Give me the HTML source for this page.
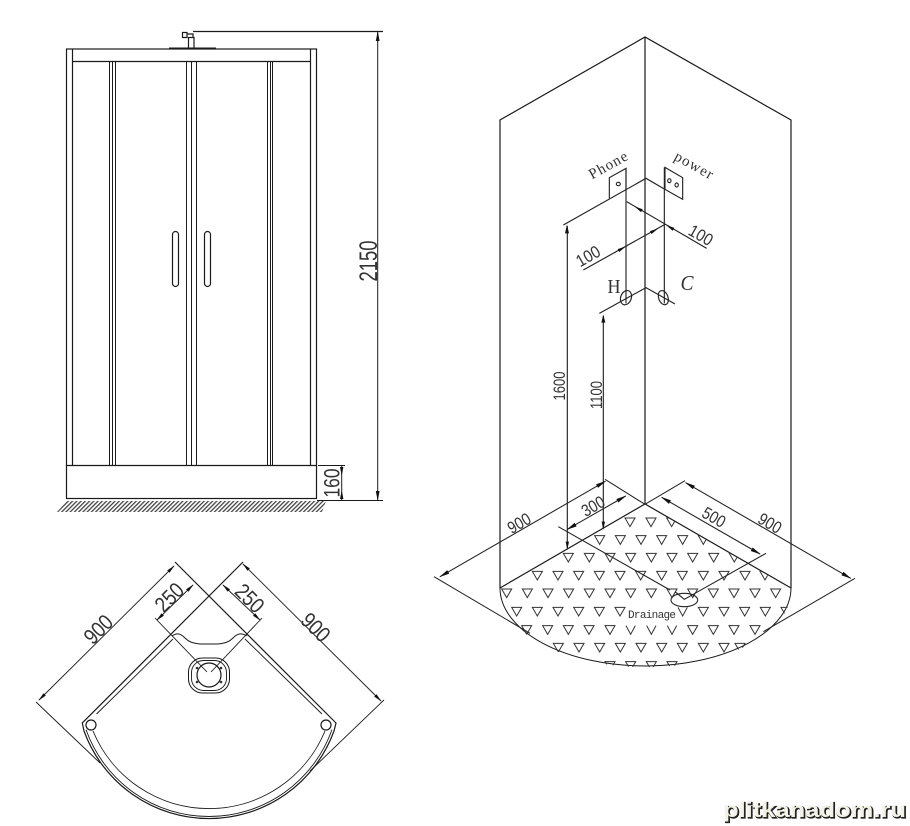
<!DOCTYPE html>
<html>
<head>
<meta charset="utf-8">
<style>
html,body{margin:0;padding:0;background:#fff}
svg{display:block}
text{font-family:"Liberation Sans",sans-serif;fill:#333}
.d{fill:none;stroke:#1a1a1a;stroke-width:1.2}
.a{marker-start:url(#ar);marker-end:url(#ar)}
</style>
</head>
<body>
<svg width="910" height="826" viewBox="0 0 910 826" xmlns="http://www.w3.org/2000/svg">
<defs>
<marker id="ar" markerWidth="10" markerHeight="5" refX="9" refY="2.5" orient="auto-start-reverse" markerUnits="strokeWidth" viewBox="0 0 10 5">
<path d="M0,0.6L10,2.5L0,4.4z" fill="#111"/>
</marker>
<pattern id="h" width="3" height="3" patternUnits="userSpaceOnUse" patternTransform="rotate(45)">
<rect width="1.3" height="3" fill="#444"/>
</pattern>
<clipPath id="fl"><path d="M645,133L1085,388A438.5,234 0 0 1 208,388Z"/></clipPath>
<path id="v" d="M-15,-13H15L0,13Z" fill="none" stroke="#333" stroke-width="3"/>
<path id="u" d="M-14,-13L0,13L14,-13" fill="none" stroke="#333" stroke-width="3"/>
</defs>
<rect width="910" height="826" fill="#fff"/>

<!-- Front view -->
<g class="d">
<rect x="66.5" y="49" width="250" height="449.5"/>
<path d="M72.5,49V465M310.5,49V465M72.7,61.5H310.5M66.5,465.5H316.5"/>
<path stroke-width="1" d="M109.5,61V465M112.5,61V465M115.5,61V465M186.5,61V465M191.5,61V465M196.5,61V465M267.5,61V465M270.5,61V465M272.5,61V465"/>
<rect x="172.5" y="231.5" width="6" height="55" rx="3"/>
<rect x="204.5" y="231.5" width="6" height="55" rx="3"/>
<path d="M169,48.5H216" stroke-width="2"/>
<path d="M188.5,48V37.5H194V48M182.5,32.5H187V37.5H182.5ZM187,34H193V37.5M193,31.5H383"/>
<path d="M317,500.5H383M318,465.5H345" stroke-width="1"/>
<path class="a" d="M377.7,32V500" stroke-width="1"/>
<path d="M341.7,465.5V500" stroke-width="1"/>
</g>
<path d="M341.7,476L340,467H343.4ZM341.7,490L340,499H343.4Z" fill="#111"/>
<path d="M57,512L67,501H326L322,512Z" fill="url(#h)"/>
<text transform="translate(331.5,483) rotate(-90)" y="8" font-size="22" text-anchor="middle" textLength="29" lengthAdjust="spacingAndGlyphs">160</text>
<text transform="translate(368,261) rotate(-90)" y="9" font-size="25" text-anchor="middle" textLength="41" lengthAdjust="spacingAndGlyphs">2150</text>

<!-- Plan view -->
<g class="d" stroke-width="1">
<path d="M243,562L82.3,723L84,731A133,133 0 0 0 334,731L336,723L175,562"/>
<path d="M173,639L96.5,714M245,639L322,714" stroke-width="0.9"/>
<path d="M86,729.6A130.5,130.5 0 0 0 332,729.6" stroke-width="0.9"/>
<path d="M93,731A125.5,125.5 0 0 0 325,731" stroke-width="0.9"/>
<circle cx="91" cy="725" r="5"/>
<circle cx="326" cy="725" r="5"/>
<path d="M172,636C177,632 181,634 185,638C189,642 192,643 200,644H218C226,643 229,642 233,638C237,634 241,632 247,636" stroke-width="1"/>
<rect x="188.5" y="658" width="41" height="35" rx="14" stroke-width="1"/>
<rect x="191.5" y="660.5" width="35" height="30" rx="12" stroke-width="0.9"/>
<circle cx="209" cy="675" r="12" stroke-width="1.2"/>
<path d="M155,618L207,672M262,618L211,672" stroke-width="0.9"/>
<path class="a" d="M157,620L193,585" stroke-width="0.9"/>
<path class="a" d="M223,585L260,620" stroke-width="0.9"/>
<path class="a" d="M174,566L39,700" stroke-width="0.9"/>
<path class="a" d="M243,564L381,701" stroke-width="0.9"/>
<path d="M36,702L100,763M384,700L310,771" stroke-width="0.9"/>
</g>
<g fill="#333"><circle cx="197" cy="668" r="1.3"/><circle cx="221" cy="668" r="1.3"/><circle cx="197" cy="682" r="1.3"/><circle cx="221" cy="682" r="1.3"/></g>
<text transform="translate(98,629) rotate(-45)" y="8" font-size="22" text-anchor="middle" textLength="31" lengthAdjust="spacingAndGlyphs">900</text>
<text transform="translate(169,597) rotate(-45)" y="8" font-size="22" text-anchor="middle" textLength="31" lengthAdjust="spacingAndGlyphs">250</text>
<text transform="translate(250,598) rotate(45)" y="8" font-size="22" text-anchor="middle" textLength="31" lengthAdjust="spacingAndGlyphs">250</text>
<text transform="translate(316,627) rotate(45)" y="8" font-size="22" text-anchor="middle" textLength="31" lengthAdjust="spacingAndGlyphs">900</text>

<!-- Isometric main -->
<g class="d">
<path d="M500,588V120L645,37L791,120V588M645,37V504"/>
<path d="M500,588L645,504L791,588"/>
<path d="M500,588A145.5,78 0 0 0 791,588" stroke-width="1"/>
<path d="M567.3,226V548M603.3,316V528" stroke-width="1.1"/>
</g>

<!-- Floor triangles -->
<g transform="translate(430,460) scale(0.33333)">
<g clip-path="url(#fl)">
<use href="#v" x="600" y="187"/><use href="#v" x="663" y="187"/><use href="#v" x="725" y="187"/>
<use href="#v" x="509" y="240"/><use href="#v" x="571" y="240"/><use href="#v" x="633" y="240"/><use href="#v" x="695" y="240"/><use href="#v" x="758" y="240"/><use href="#v" x="820" y="240"/>
<use href="#v" x="415" y="293"/><use href="#v" x="478" y="293"/><use href="#v" x="540" y="293"/><use href="#v" x="602" y="293"/><use href="#v" x="664" y="293"/><use href="#v" x="726" y="293"/><use href="#v" x="788" y="293"/><use href="#v" x="851" y="293"/><use href="#v" x="913" y="293"/>
<use href="#v" x="322" y="347"/><use href="#v" x="384" y="347"/><use href="#v" x="446" y="347"/><use href="#v" x="508" y="347"/><use href="#v" x="570" y="347"/><use href="#v" x="632" y="347"/><use href="#v" x="695" y="347"/><use href="#v" x="757" y="347"/><use href="#v" x="820" y="347"/><use href="#v" x="882" y="347"/><use href="#v" x="945" y="347"/><use href="#v" x="1005" y="347"/>
<use href="#v" x="230" y="400"/><use href="#v" x="292" y="400"/><use href="#v" x="354" y="400"/><use href="#v" x="416" y="400"/><use href="#v" x="478" y="400"/><use href="#v" x="540" y="400"/><use href="#v" x="602" y="400"/><use href="#v" x="664" y="400"/><use href="#v" x="726" y="400"/><use href="#v" x="788" y="400"/><use href="#v" x="850" y="400"/><use href="#v" x="912" y="400"/><use href="#v" x="975" y="400"/><use href="#v" x="1037" y="400"/>
<use href="#v" x="260" y="455"/><use href="#v" x="322" y="455"/><use href="#v" x="384" y="455"/><use href="#v" x="446" y="455"/><use href="#v" x="508" y="455"/><use href="#v" x="570" y="455"/><use href="#u" x="758" y="455"/><use href="#v" x="820" y="455"/><use href="#v" x="882" y="455"/><use href="#v" x="944" y="455"/><use href="#v" x="1006" y="455"/><use href="#v" x="1068" y="455"/>
<use href="#v" x="290" y="510"/><use href="#v" x="353" y="510"/><use href="#v" x="415" y="510"/><use href="#v" x="477" y="510"/><use href="#v" x="540" y="510"/><use href="#u" x="602" y="510"/><use href="#u" x="664" y="510"/><use href="#u" x="726" y="510"/><use href="#v" x="788" y="510"/><use href="#v" x="850" y="510"/><use href="#v" x="912" y="510"/><use href="#v" x="975" y="510"/>
<use href="#v" x="385" y="563"/><use href="#v" x="447" y="563"/><use href="#v" x="509" y="563"/><use href="#v" x="571" y="563"/><use href="#v" x="633" y="563"/><use href="#v" x="695" y="563"/><use href="#v" x="757" y="563"/><use href="#v" x="820" y="563"/><use href="#v" x="882" y="563"/><use href="#v" x="930" y="563"/>
<use href="#v" x="540" y="618"/><use href="#v" x="602" y="618"/><use href="#v" x="664" y="618"/><use href="#v" x="726" y="618"/>
</g>
<g fill="none" stroke="#222" stroke-width="3.2">
<path class="a" d="M30,350L526,64"/>
<path class="a" d="M767,68L1262,355"/>
<path d="M12,350L300,520M1275,355L1000,515M525,58L645,133M765,62L645,133"/>
<path class="a" d="M412,208L587,108"/>
<path d="M385,200L720,390M1008,280L795,400"/>
<path class="a" d="M695,112L990,282"/>
<ellipse cx="763" cy="420" rx="40" ry="20"/>
<path d="M735,395L763,418L795,400"/>
</g>
<path d="M412,270L407,245H417ZM520,210L515,185H525Z" fill="#111"/>
</g>

<!-- Isometric upper -->
<g transform="translate(540,130) scale(0.33333)">
<g fill="none" stroke="#222" stroke-width="3.4">
<path d="M208,205V143L258,115V178M375,178V112L428,143V208L375,178"/>
<path d="M70,285L318,145L375,178"/>
<path d="M258,115V520M373,112V520"/>
<path d="M260,215L500,355"/>
<path d="M130,420L375,283"/>
<path d="M178,550L318,473L405,522"/>
<ellipse cx="258" cy="503" rx="16" ry="22" transform="rotate(20 258 503)"/>
<ellipse cx="370" cy="503" rx="14" ry="22" transform="rotate(-20 370 503)"/>
<ellipse cx="235" cy="162" rx="6" ry="5"/>
<ellipse cx="388" cy="152" rx="5" ry="6"/>
<ellipse cx="410" cy="165" rx="5" ry="6"/>
</g>
<g fill="#111">
<path d="M81,283L75,310H87ZM190,553L184,578H196Z"/>
<path d="M283,229L303,246.4L308,237.8ZM378,285L398,302.4L403,293.8Z"/>
<path d="M258,349L237.7,366.1L232.9,357.3ZM355,295L334.7,312.1L329.9,303.3Z"/>
</g>
</g>

<!-- Isometric labels -->
<text transform="translate(608,165) rotate(-29)" y="5" font-size="15" text-anchor="middle" textLength="42" style="font-family:'Liberation Serif',serif">Phone</text>
<text transform="translate(694,165) rotate(29)" y="5" font-size="15" text-anchor="middle" textLength="42" style="font-family:'Liberation Serif',serif">power</text>
<text x="614" y="293" font-size="20" text-anchor="middle" textLength="13" lengthAdjust="spacingAndGlyphs" style="font-family:'Liberation Serif',serif">H</text>
<text x="687" y="290" font-size="21" text-anchor="middle" font-style="italic" textLength="13" lengthAdjust="spacingAndGlyphs" style="font-family:'Liberation Serif',serif">C</text>
<text transform="translate(588,256) rotate(-30)" y="6" font-size="17" text-anchor="middle" textLength="25" lengthAdjust="spacingAndGlyphs">100</text>
<text transform="translate(701,235) rotate(30)" y="6" font-size="17" text-anchor="middle" textLength="25" lengthAdjust="spacingAndGlyphs">100</text>
<text transform="translate(559,386) rotate(-90)" y="6" font-size="17" text-anchor="middle" textLength="29" lengthAdjust="spacingAndGlyphs">1600</text>
<text transform="translate(596,395) rotate(-90)" y="6" font-size="17" text-anchor="middle" textLength="28" lengthAdjust="spacingAndGlyphs">1100</text>
<text transform="translate(593,506) rotate(-30)" y="6" font-size="17" text-anchor="middle" textLength="24" lengthAdjust="spacingAndGlyphs">300</text>
<text transform="translate(714,517) rotate(30)" y="6" font-size="17" text-anchor="middle" textLength="24" lengthAdjust="spacingAndGlyphs">500</text>
<text transform="translate(519,523) rotate(-30)" y="6" font-size="17" text-anchor="middle" textLength="24" lengthAdjust="spacingAndGlyphs">900</text>
<text transform="translate(770,523) rotate(30)" y="6" font-size="17" text-anchor="middle" textLength="24" lengthAdjust="spacingAndGlyphs">900</text>
<text x="652" y="618" font-size="11" text-anchor="middle" textLength="48" style="font-family:'Liberation Mono',monospace">Drainage</text>

<!-- Watermark -->
<text x="724" y="818" font-size="21" font-weight="bold" textLength="183" lengthAdjust="spacingAndGlyphs" style="fill:#222;stroke:#222;stroke-width:1.2">plitkanadom.ru</text>
<text x="723" y="817" font-size="21" font-weight="bold" textLength="183" lengthAdjust="spacingAndGlyphs" style="fill:#f2f2e6">plitkanadom.ru</text>
</svg>
</body>
</html>
